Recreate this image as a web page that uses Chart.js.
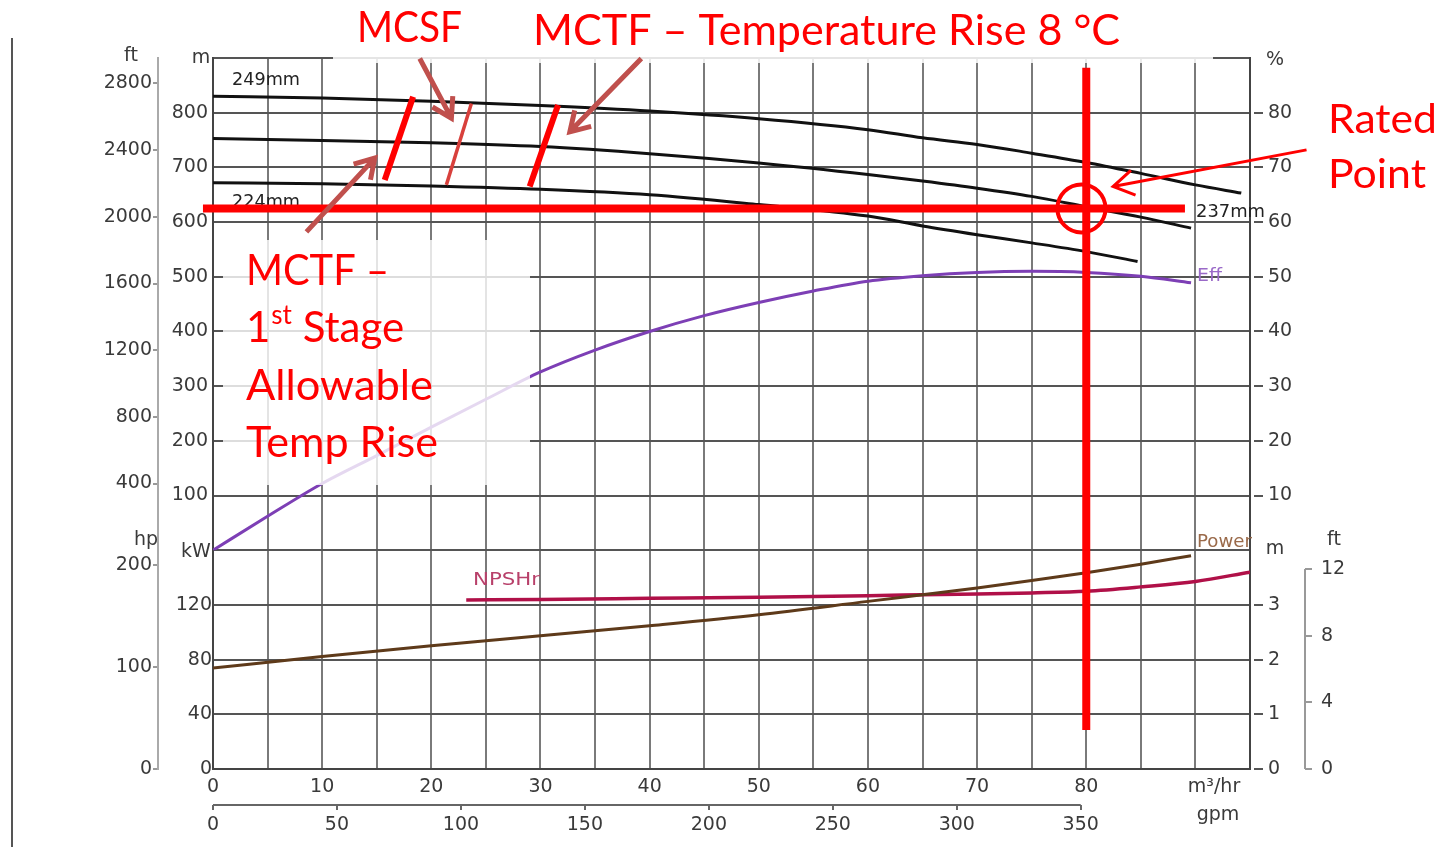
<!DOCTYPE html>
<html>
<head>
<meta charset="utf-8">
<title>Pump curve</title>
<script src="https://cdn.jsdelivr.net/npm/chart.js@4.4.1/dist/chart.umd.min.js"></script>
<style>
  html, body { margin: 0; padding: 0; background: #fff; }
  canvas { display: block; }
</style>
</head>
<body>
<canvas id="pumpChart" width="1441" height="847"></canvas>
<script>
// Head curves (flow m3/hr, head m)
const head249Q = [0, 10, 20, 30, 40, 50, 60, 65, 70, 75, 80, 85, 90, 94.2];
const head249H = [830, 827, 821, 813, 803, 789, 769, 754, 742, 726, 709, 689, 668, 653];
const head237Q = [0, 10, 20, 30, 40, 50, 60, 65, 70, 75, 80, 85, 89.6];
const head237H = [753, 749, 745, 738, 725, 708, 687, 675, 662, 647, 628, 609, 589];
const head224Q = [0, 10, 20, 30, 40, 50, 60, 65, 70, 75, 80, 84.7];
const head224H = [672, 670, 666, 660, 650, 632, 611, 593, 577, 562, 546, 528];

// Efficiency (%)
const effQ = [0, 5, 10, 15, 20, 25, 30, 35, 40, 45, 50, 55, 60, 65, 70, 75, 80, 85, 89.6];
const effPct = [0, 6.2, 12.2, 17.3, 22.5, 27.6, 32.6, 36.6, 40, 42.9, 45.3, 47.4, 49.2, 50.2, 50.8, 51, 50.8, 50.1, 48.9];

// Power (kW)
const powerQ = [0, 10, 20, 30, 40, 50, 60, 70, 75, 80, 85, 89.6];
const powerKw = [73.8, 82.3, 90.1, 97.5, 104.8, 112.8, 122.6, 132.4, 137.8, 143.5, 149.8, 156];

// NPSHr (m)
const npshQ = [23.2, 30, 40, 50, 60, 70, 75, 80, 85, 90, 95];
const npshM = [3.09, 3.1, 3.12, 3.14, 3.17, 3.2, 3.22, 3.25, 3.33, 3.43, 3.6];

// Tick labels
const flowTicks = [0, 10, 20, 30, 40, 50, 60, 70, 80];
const gpmTicks = [0, 50, 100, 150, 200, 250, 300, 350];
const headTicksM = [100, 200, 300, 400, 500, 600, 700, 800];
const headTicksFt = [400, 800, 1200, 1600, 2000, 2400, 2800];
const powerTicksKw = [0, 40, 80, 120];
const powerTicksHp = [0, 100, 200];
const effTicks = [10, 20, 30, 40, 50, 60, 70, 80];
const npshTicksM = [0, 1, 2, 3];
const npshTicksFt = [0, 4, 8, 12];

// Annotations, in data units (flow m3/hr, head m)
const mctfMarkLow = [[15.73, 677], [18.33, 829]];
const mcsfMark = [[21.38, 668], [23.67, 817]];
const mctfMarkHigh = [[29.01, 665], [31.61, 814]];
const ratedQ = 80;
const ratedH = 625;

const M_TO_FT = 3.28084;
const KW_TO_HP = 1.34102;
const M3H_TO_GPM = 4.40287;

function steps(from, to, step) {
    const out = [];
    for (let v = from; v <= to + 1e-9; v += step) out.push(v);
    return out;
}
function toPoints(qs, vs) {
    return qs.map((q, i) => ({ x: q, y: vs[i] }));
}
function setTicks(values) {
    return function(scale) { scale.ticks = values.map(v => ({ value: v })); };
}
function fixWidth(w) { return function(scale) { scale.width = w; }; }
function fixHeight(h) { return function(scale) { scale.height = h; }; }
const plain = v => String(v);

Chart.defaults.font.family = "'DejaVu Sans', sans-serif";
Chart.defaults.font.size = 19;
Chart.defaults.color = '#3a3a3a';

function fitText(ctx, text, x, y, w) {
    const m = ctx.measureText(text).width;
    ctx.save();
    ctx.translate(x, y);
    ctx.scale(w / m, 1);
    ctx.fillText(text, 0, 0);
    ctx.restore();
}

function arrow(ctx, x1, y1, x2, y2, color, width, head) {
    const ang = Math.atan2(y2 - y1, x2 - x1);
    ctx.save();
    ctx.strokeStyle = color;
    ctx.lineWidth = width;
    ctx.lineCap = 'butt';
    ctx.lineJoin = 'miter';
    ctx.beginPath();
    ctx.moveTo(x1, y1);
    ctx.lineTo(x2, y2);
    ctx.moveTo(x2 - head * Math.cos(ang - 0.55), y2 - head * Math.sin(ang - 0.55));
    ctx.lineTo(x2, y2);
    ctx.lineTo(x2 - head * Math.cos(ang + 0.55), y2 - head * Math.sin(ang + 0.55));
    ctx.stroke();
    ctx.restore();
}

const annotations = {
    id: 'annotations',
    afterDraw(chart) {
        const ctx = chart.ctx;
        const s = chart.scales;
        const px = q => s.x.getPixelForValue(q);
        const py = h => s.yM.getPixelForValue(h);

        ctx.save();
        // borde de la diapositiva
        ctx.strokeStyle = '#555';
        ctx.lineWidth = 2;
        ctx.beginPath();
        ctx.moveTo(12, 38);
        ctx.lineTo(12, 847);
        ctx.stroke();

        // linea gpm y eje NPSH ft
        ctx.strokeStyle = '#666';
        ctx.lineWidth = 2;
        ctx.beginPath();
        ctx.moveTo(s.xGpm.getPixelForValue(0), s.xGpm.top);
        ctx.lineTo(s.xGpm.getPixelForValue(350), s.xGpm.top);
        ctx.stroke();
        ctx.strokeStyle = '#999';
        ctx.beginPath();
        ctx.moveTo(s.yNft.left, s.yNft.getPixelForValue(0));
        ctx.lineTo(s.yNft.left, s.yNft.getPixelForValue(12));
        ctx.stroke();

        // unidades
        ctx.fillStyle = '#3a3a3a';
        ctx.font = "19px 'DejaVu Sans'";
        ctx.textAlign = 'center';
        ctx.textBaseline = 'middle';
        ctx.fillText('ft', 131, 56);
        ctx.fillText('m', 201, 58);
        ctx.fillText('%', 1275, 60);
        ctx.fillText('hp', 146, 540);
        ctx.fillText('kW', 196, 552);
        ctx.fillText('m', 1275, 549);
        ctx.fillText('ft', 1334, 540);
        ctx.fillText('m³/hr', 1214, 787);
        ctx.fillText('gpm', 1218, 815);

        // etiquetas de curvas
        ctx.textAlign = 'left';
        ctx.font = "17px 'DejaVu Sans'";
        ctx.fillStyle = '#222';
        fitText(ctx, '249mm', 232, 81, 68);
        fitText(ctx, '224mm', 232, 203, 68);
        fitText(ctx, '237mm', 1196, 213, 69);
        ctx.fillStyle = '#9a6ac8';
        fitText(ctx, 'Eff', 1197, 277, 25);
        ctx.fillStyle = '#9a6a4a';
        fitText(ctx, 'Power', 1197, 543, 55);
        ctx.fillStyle = '#b8406a';
        fitText(ctx, 'NPSHr', 473, 581, 67);

        // cajas blancas detras del texto
        ctx.fillStyle = 'rgba(255,255,255,0.85)';
        ctx.fillRect(333, 0, 880, 63);
        ctx.fillStyle = 'rgba(255,255,255,0.8)';
        ctx.fillRect(223, 240, 307, 245);

        // marcas MCTF / MCSF
        ctx.lineCap = 'butt';
        ctx.strokeStyle = '#ff0000';
        ctx.lineWidth = 6;
        [mctfMarkLow, mctfMarkHigh].forEach(mk => {
            ctx.beginPath();
            ctx.moveTo(px(mk[0][0]), py(mk[0][1]));
            ctx.lineTo(px(mk[1][0]), py(mk[1][1]));
            ctx.stroke();
        });
        ctx.strokeStyle = '#d8403c';
        ctx.lineWidth = 3.5;
        ctx.beginPath();
        ctx.moveTo(px(mcsfMark[0][0]), py(mcsfMark[0][1]));
        ctx.lineTo(px(mcsfMark[1][0]), py(mcsfMark[1][1]));
        ctx.stroke();

        // punto nominal
        ctx.strokeStyle = '#ff0000';
        ctx.lineWidth = 8;
        ctx.beginPath();
        ctx.moveTo(px(-0.92), py(ratedH));
        ctx.lineTo(px(89.04), py(ratedH));
        ctx.moveTo(px(ratedQ), py(882));
        ctx.lineTo(px(ratedQ), s.yKw.getPixelForValue(28.5));
        ctx.stroke();
        ctx.lineWidth = 4;
        ctx.beginPath();
        ctx.arc(px(79.56), py(ratedH), 24, 0, Math.PI * 2);
        ctx.stroke();

        // flechas
        arrow(ctx, px(18.94), py(899), px(21.84), py(790), '#c0504d', 5, 22);
        arrow(ctx, px(39.24), py(899), px(32.69), py(765), '#c0504d', 5, 22);
        arrow(ctx, px(8.56), py(582), px(14.82), py(717), '#c0504d', 5, 22);
        arrow(ctx, px(100.18), py(732), px(82.46), py(665), '#ff0000', 3, 24);

        // textos
        ctx.fillStyle = '#ff0000';
        ctx.textAlign = 'left';
        ctx.textBaseline = 'alphabetic';
        ctx.font = "42px Lato";
        fitText(ctx, 'MCSF', 357, 42, 105);
        fitText(ctx, 'MCTF – Temperature Rise 8 °C', 533, 45, 587);
        fitText(ctx, 'MCTF –', 246, 285, 143);
        ctx.fillText('1', 246, 342);
        const w1 = ctx.measureText('1').width;
        ctx.font = "26px Lato";
        ctx.fillText('st', 246 + w1 + 1, 324);
        const w2 = ctx.measureText('st').width;
        ctx.font = "42px Lato";
        ctx.fillText(' Stage', 246 + w1 + w2 + 1, 342);
        fitText(ctx, 'Allowable', 246, 400, 187);
        fitText(ctx, 'Temp Rise', 246, 457, 192);
        ctx.font = "40px Lato";
        fitText(ctx, 'Rated', 1328, 133, 109);
        fitText(ctx, 'Point', 1328, 188, 98);
        ctx.restore();
    }
};

const lineStyle = { pointRadius: 0, borderWidth: 3, cubicInterpolationMode: 'monotone', fill: false };

new Chart(document.getElementById('pumpChart'), {
    type: 'line',
    data: {
        datasets: [
            Object.assign({ label: '249mm', data: toPoints(head249Q, head249H), borderColor: '#111', xAxisID: 'x', yAxisID: 'yM' }, lineStyle),
            Object.assign({ label: '237mm', data: toPoints(head237Q, head237H), borderColor: '#111', xAxisID: 'x', yAxisID: 'yM' }, lineStyle),
            Object.assign({ label: '224mm', data: toPoints(head224Q, head224H), borderColor: '#111', xAxisID: 'x', yAxisID: 'yM' }, lineStyle),
            Object.assign({ label: 'Eff', data: toPoints(effQ, effPct), borderColor: '#7d3fb5', xAxisID: 'x', yAxisID: 'yPct' }, lineStyle),
            Object.assign({ label: 'Power', data: toPoints(powerQ, powerKw), borderColor: '#5e3a1a', xAxisID: 'x', yAxisID: 'yKw' }, lineStyle),
            Object.assign({ label: 'NPSHr', data: toPoints(npshQ, npshM), borderColor: '#b01048', xAxisID: 'x', yAxisID: 'yNm' }, lineStyle, { borderWidth: 3.5 })
        ]
    },
    options: {
        responsive: false,
        animation: false,
        devicePixelRatio: 1,
        layout: { padding: { left: 100, right: 91, top: 58, bottom: 7 } },
        plugins: {
            legend: { display: false },
            tooltip: { enabled: false }
        },
        scales: {
            x: {
                type: 'linear', position: 'bottom', min: 0, max: 95,
                afterBuildTicks: setTicks(steps(0, 95, 5)),
                afterFit: fixHeight(36),
                grid: { color: '#7a7a7a', lineWidth: 2, drawTicks: false },
                border: { display: true, color: '#444', width: 2 },
                ticks: { autoSkip: false, maxRotation: 0, padding: 7, callback: v => flowTicks.includes(v) ? plain(v) : '' }
            },
            xGpm: {
                type: 'linear', position: 'bottom', min: 0, max: 95 * M3H_TO_GPM,
                afterBuildTicks: setTicks(gpmTicks),
                afterFit: fixHeight(35),
                grid: { drawOnChartArea: false, tickLength: 5, color: '#666', lineWidth: 2 },
                border: { display: false },
                ticks: { autoSkip: false, maxRotation: 0, padding: 4, callback: plain }
            },
            yKw: {
                type: 'linear', position: 'left', stack: 'inner', stackWeight: 4, min: 0, max: 160,
                afterBuildTicks: setTicks(steps(0, 160, 40)),
                afterFit: fixWidth(55),
                grid: { color: '#555', lineWidth: 2, drawTicks: false },
                border: { display: true, color: '#444', width: 2 },
                ticks: { padding: 1, callback: v => powerTicksKw.includes(v) ? plain(v) : '' }
            },
            yM: {
                type: 'linear', position: 'left', stack: 'inner', stackWeight: 9, min: 0, max: 900,
                afterBuildTicks: setTicks(steps(0, 900, 100)),
                afterFit: fixWidth(55),
                grid: { color: '#555', lineWidth: 2, drawTicks: false },
                border: { display: true, color: '#444', width: 2 },
                ticks: { padding: 5, callback: v => headTicksM.includes(v) ? plain(v) : '' }
            },
            yHp: {
                type: 'linear', position: 'left', stack: 'outer', stackWeight: 4, min: 0, max: 160 * KW_TO_HP,
                afterBuildTicks: setTicks(powerTicksHp),
                afterFit: fixWidth(58),
                grid: { drawOnChartArea: false, tickLength: 5, color: '#999', lineWidth: 2 },
                border: { display: true, color: '#aaa', width: 2 },
                ticks: { padding: 1, callback: plain }
            },
            yFt: {
                type: 'linear', position: 'left', stack: 'outer', stackWeight: 9, min: 0, max: 900 * M_TO_FT,
                afterBuildTicks: setTicks(headTicksFt),
                afterFit: fixWidth(58),
                grid: { drawOnChartArea: false, tickLength: 5, color: '#999', lineWidth: 2 },
                border: { display: true, color: '#aaa', width: 2 },
                ticks: { padding: 1, callback: plain }
            },
            yPct: {
                type: 'linear', position: 'right', stack: 'rInner', stackWeight: 9, min: 0, max: 90,
                afterBuildTicks: setTicks(steps(0, 90, 10)),
                afterFit: fixWidth(55),
                grid: {
                    drawOnChartArea: false, tickLength: 13, lineWidth: 2, tickBorderDash: [0, 3, 10],
                    tickColor: c => effTicks.includes(c.tick.value) ? '#555' : 'rgba(0,0,0,0)'
                },
                border: { display: true, color: '#444', width: 2 },
                ticks: { padding: 5, callback: v => effTicks.includes(v) ? plain(v) : '' }
            },
            yNm: {
                type: 'linear', position: 'right', stack: 'rInner', stackWeight: 4, min: 0, max: 4,
                afterBuildTicks: setTicks(steps(0, 4, 1)),
                afterFit: fixWidth(55),
                grid: {
                    drawOnChartArea: false, tickLength: 13, lineWidth: 2, tickBorderDash: [0, 3, 10],
                    tickColor: c => npshTicksM.includes(c.tick.value) ? '#555' : 'rgba(0,0,0,0)'
                },
                border: { display: true, color: '#444', width: 2 },
                ticks: { padding: 5, callback: v => npshTicksM.includes(v) ? plain(v) : '' }
            },
            yNft: {
                type: 'linear', position: 'right', min: 0, max: 13 * M_TO_FT,
                afterBuildTicks: setTicks(npshTicksFt),
                afterFit: fixWidth(45),
                grid: { drawOnChartArea: false, tickLength: 7, color: '#999', lineWidth: 2 },
                border: { display: false },
                ticks: { padding: 9, callback: plain }
            }
        }
    },
    plugins: [annotations]
});
</script>
</body>
</html>
